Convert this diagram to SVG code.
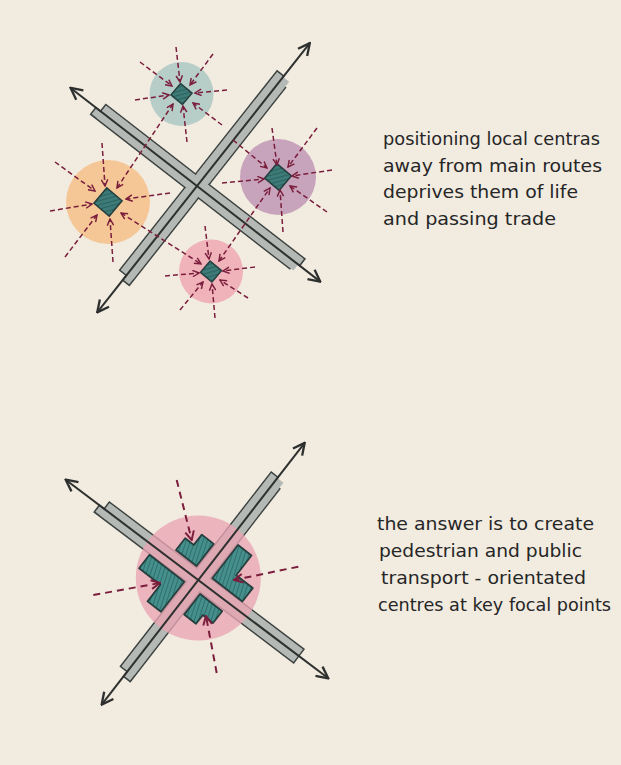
<svg xmlns="http://www.w3.org/2000/svg" width="621" height="765" viewBox="0 0 621 765">
<style>
.bg{fill:#f1ebe0}
.band{fill:#b4b9b5;stroke:#3e4442;stroke-width:1.6}
.bandfill{fill:#b4b9b5;stroke:none}
.shaft{fill:none;stroke:#2e302f;stroke-width:2;marker-start:url(#rh);marker-end:url(#rh)}
.dash{fill:none;stroke:#7a1e3c;stroke-width:1.5;stroke-dasharray:5 3;marker-end:url(#ah)}
.dash2{fill:none;stroke:#7a1e3c;stroke-width:1.5;stroke-dasharray:5 3;marker-start:url(#ah);marker-end:url(#ah)}
.dashb{fill:none;stroke:#7a1e3c;stroke-width:2;stroke-dasharray:7 5;marker-end:url(#ahb)}
.dia{fill:url(#hatch);stroke:#243f3e;stroke-width:1.5}
.blk{fill:url(#hatch2);stroke:#243f3e;stroke-width:1.8;stroke-linejoin:round}
.txt{font-family:"DejaVu Sans","Liberation Sans",sans-serif;font-size:18px;fill:#262626}
</style>
<defs>
<marker id="rh" viewBox="0 0 12 12" refX="11" refY="6" markerWidth="14" markerHeight="14" markerUnits="userSpaceOnUse" orient="auto-start-reverse">
<path d="M1,1 L11,6 L1,11" fill="none" stroke="#2e302f" stroke-width="2"/>
</marker>
<marker id="ah" viewBox="0 0 10 10" refX="9" refY="5" markerWidth="8" markerHeight="8" markerUnits="userSpaceOnUse" orient="auto-start-reverse">
<path d="M1,1 L9,5 L1,9" fill="none" stroke="#7a1e3c" stroke-width="1.8"/>
</marker>
<marker id="ahb" viewBox="0 0 10 10" refX="9" refY="5" markerWidth="11" markerHeight="11" markerUnits="userSpaceOnUse" orient="auto">
<path d="M1,1 L9,5 L1,9" fill="none" stroke="#7a1e3c" stroke-width="1.8"/>
</marker>
<pattern id="hatch" width="4" height="4" patternUnits="userSpaceOnUse" patternTransform="rotate(35)">
<rect width="4" height="4" fill="#3c7b77"/>
<line x1="0" y1="0" x2="0" y2="4" stroke="#2a5a58" stroke-width="1.6"/>
</pattern>
<pattern id="hatch2" width="4" height="4" patternUnits="userSpaceOnUse" patternTransform="rotate(70)">
<rect width="4" height="4" fill="#45908d"/>
<line x1="0" y1="0" x2="0" y2="4" stroke="#2c6664" stroke-width="1.6"/>
</pattern>
</defs>
<rect class="bg" x="0" y="0" width="621" height="765"/>

<!-- TOP DIAGRAM -->
<g id="circle-orange"><circle cx="108" cy="202" r="42" fill="#f6c796"/></g>
<g id="circle-teal"><circle cx="181.5" cy="94" r="32" fill="#b7cdc7"/></g>
<g id="circle-purple"><circle cx="278" cy="177" r="38" fill="#c8a3bc"/></g>
<g id="circle-pink"><circle cx="211" cy="271.5" r="32" fill="#f0b3ba"/></g>

<g id="roads-top">
<g transform="translate(197,186) rotate(-51.7)">
<rect class="band" x="-114" y="-8.5" width="254" height="8.5"/>
<rect class="band" x="-120" y="0" width="252" height="8.5"/>
</g>
<g transform="translate(197,186) rotate(37.8)">
<rect class="band" x="-122" y="-8.5" width="252" height="8.5"/>
<rect class="band" x="-128" y="0" width="252" height="8.5"/>
</g>
<g transform="translate(197,186) rotate(-51.7)">
<rect class="bandfill" x="-113" y="-7.7" width="252" height="15.4"/>
</g>
<g transform="translate(197,186) rotate(37.8)">
<rect class="bandfill" x="-121" y="-7.7" width="249" height="15.4"/>
</g>
<g transform="translate(197,186) rotate(-51.7)">
<line class="shaft" x1="-161" y1="0" x2="182" y2="0"/>
</g>
<g transform="translate(197,186) rotate(37.8)">
<line class="shaft" x1="-160" y1="0" x2="156" y2="0"/>
</g>
</g>

<g id="centre-orange"><rect class="dia" x="-10" y="-10" width="20" height="20" transform="translate(108,202) rotate(40)"/></g>
<g id="centre-teal"><rect class="dia" x="-7.5" y="-7.5" width="15" height="15" transform="translate(181.5,94) rotate(40)"/></g>
<g id="centre-purple"><rect class="dia" x="-9.5" y="-9.5" width="19" height="19" transform="translate(278,177) rotate(40)"/></g>
<g id="centre-pink"><rect class="dia" x="-7.5" y="-7.5" width="15" height="15" transform="translate(211,271.5) rotate(40)"/></g>

<g id="connectors-top">
<path class="dash" d="M176,47 L180,82"/>
<path class="dash" d="M213,54 L190,85"/>
<path class="dash" d="M227,90 L195,93"/>
<path class="dash" d="M222,125 L193,103"/>
<path class="dash" d="M187,142 L183,106"/>
<path class="dash" d="M135,100 L169,95"/>
<path class="dash" d="M140,62 L172,86"/>
<path class="dash2" d="M117,188 L173,104"/>
<path class="dash" d="M102,143 L105,186"/>
<path class="dash" d="M170,193 L126,199"/>
<path class="dash" d="M113,262 L110,219"/>
<path class="dash" d="M65,257 L97,215"/>
<path class="dash" d="M50,211 L92,204"/>
<path class="dash" d="M55,162 L95,191"/>
<path class="dash2" d="M121,213 L201,264"/>
<path class="dash" d="M272,128 L277,165"/>
<path class="dash" d="M317,128 L288,167"/>
<path class="dash" d="M332,170 L292,176"/>
<path class="dash" d="M327,212 L290,186"/>
<path class="dash" d="M283,232 L280,190"/>
<path class="dash" d="M222,183 L264,179"/>
<path class="dash" d="M233,140 L267,168"/>
<path class="dash2" d="M219,261 L270,188"/>
<path class="dash" d="M205,226 L209,259"/>
<path class="dash" d="M255,267 L223,271"/>
<path class="dash" d="M248,298 L220,280"/>
<path class="dash" d="M215,318 L212,284"/>
<path class="dash" d="M180,310 L203,282"/>
<path class="dash" d="M165,276 L199,273"/>
</g>

<g id="label-top" class="txt">
<text x="383" y="145" textLength="217" lengthAdjust="spacingAndGlyphs">positioning local centras</text>
<text x="383" y="171.5" textLength="219" lengthAdjust="spacingAndGlyphs">away from main routes</text>
<text x="383" y="198" textLength="195" lengthAdjust="spacingAndGlyphs">deprives them of life</text>
<text x="383" y="224.5" textLength="173" lengthAdjust="spacingAndGlyphs">and passing trade</text>
</g>

<!-- BOTTOM DIAGRAM -->
<g id="roads-bottom">
<g transform="translate(198.3,580) rotate(-52.2)">
<rect class="band" x="-116" y="-8.5" width="246" height="8.5"/>
<rect class="band" x="-122" y="0" width="244" height="8.5"/>
</g>
<g transform="translate(198.3,580) rotate(37.1)">
<rect class="band" x="-118" y="-8.5" width="244" height="8.5"/>
<rect class="band" x="-124" y="0" width="250" height="8.5"/>
</g>
<g transform="translate(198.3,580) rotate(-52.2)">
<rect class="bandfill" x="-115" y="-7.7" width="244" height="15.4"/>
</g>
<g transform="translate(198.3,580) rotate(37.1)">
<rect class="bandfill" x="-117" y="-7.7" width="242" height="15.4"/>
</g>
</g>
<g id="centre-main">
<circle cx="198.3" cy="578" r="62.5" fill="#eaa4b3" fill-opacity="0.78"/>
<g transform="translate(198.3,580) rotate(-52.2)">
<path class="blk" d="M10,-10 L38,-10 L38,-25 L25,-25 L25,-36 L10,-36 Z"/>
<path class="blk" d="M10,10 L52,10 L52,27 L27,27 L27,48 L10,48 Z"/>
<path class="blk" d="M-10,10 L-36,10 L-36,25 L-25,25 L-25,38 L-10,38 Z"/>
<path class="blk" d="M-10,-10 L-48,-10 L-48,-27 L-27,-27 L-27,-54 L-10,-54 Z"/>
</g>
</g>
<g id="shafts-bottom">
<g transform="translate(198.3,580) rotate(-52.2)">
<line class="shaft" x1="-157.7" y1="0" x2="173.6" y2="0"/>
</g>
<g transform="translate(198.3,580) rotate(37.1)">
<line class="shaft" x1="-166.3" y1="0" x2="163" y2="0"/>
</g>
</g>
<g id="connectors-bottom">
<path class="dashb" d="M176.7,480 L191.7,540"/>
<path class="dashb" d="M298.3,566.7 L234,580"/>
<path class="dashb" d="M93.3,595 L160,583"/>
<path class="dashb" d="M216.7,673 L206,616"/>
</g>

<g id="label-bottom" class="txt">
<text x="377" y="530" textLength="217" lengthAdjust="spacingAndGlyphs">the answer is to create</text>
<text x="379" y="557" textLength="203" lengthAdjust="spacingAndGlyphs">pedestrian and public</text>
<text x="381" y="584" textLength="205" lengthAdjust="spacingAndGlyphs">transport - orientated</text>
<text x="378" y="611" textLength="233" lengthAdjust="spacingAndGlyphs">centres at key focal points</text>
</g>
</svg>
